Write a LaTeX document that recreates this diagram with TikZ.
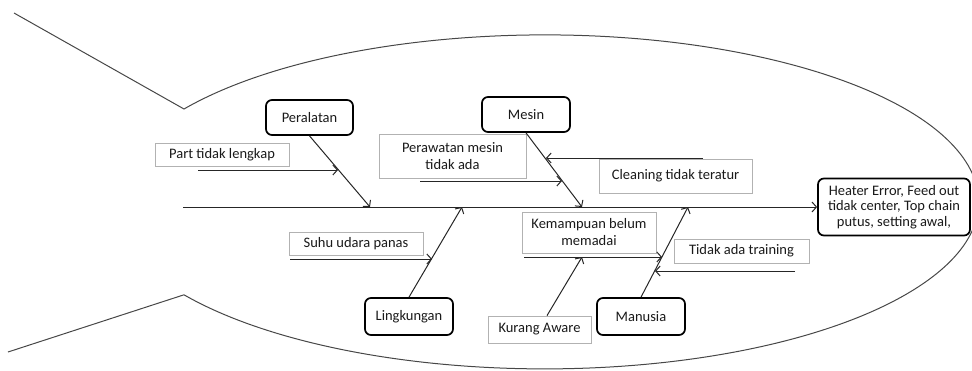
\documentclass[tikz,border=0pt]{standalone}
\usepackage{fontspec}
\setmainfont{Carlito}
\usetikzlibrary{arrows.meta,calc}
\definecolor{txt}{HTML}{1A1A1A}
\begin{document}
\begin{tikzpicture}[x=1pt,y=-1pt,
  every node/.style={text=txt,font=\fontsize{14.5}{17}\selectfont,align=center,inner sep=0pt},
  catbox/.style={draw=black,line width=1.7pt,rounded corners=6pt,fill=white},
  causebox/.style={draw=black!30,line width=0.8pt,fill=white},
  bone/.style={draw=black!85,line width=1pt,-{Straight Barb[length=4.5pt,width=10pt]}},
  outline/.style={draw=black!72,line width=1pt}]
\useasboundingbox (0,0) rectangle (972,370);
% fish outline
\draw[outline] (14,13) -- (184,109)
  arc[start angle=146.2, end angle=-146.2, x radius=434pt, y radius=167pt] -- (8,352);
% effect
\node[catbox,minimum width=152pt,minimum height=57pt,font=\fontsize{14.5}{15.5}\selectfont] (hea) at (894,207)
  {Heater Error, Feed out\\tidak center, Top chain\\putus, setting awal,};
% categories
\node[catbox,minimum width=87pt,minimum height=35pt] (per) at (309.5,117.5) {Peralatan};
\node[catbox,minimum width=88pt,minimum height=35pt] (mes) at (526,114.5) {Mesin};
\node[catbox,minimum width=88pt,minimum height=37pt] (lin) at (409,316.5) {Lingkungan};
\node[catbox,minimum width=88pt,minimum height=37pt] (man) at (641,316.5) {Manusia};
% causes
\node[causebox,minimum width=134pt,minimum height=23pt] (prt) at (222,154.5) {Part tidak lengkap};
\node[causebox,minimum width=147pt,minimum height=44pt] (prw) at (452.5,156) {Perawatan mesin\\tidak ada};
\node[causebox,minimum width=153pt,minimum height=34pt] (cln) at (675.5,176) {Cleaning tidak teratur};
\node[causebox,minimum width=134pt,minimum height=23pt] (suh) at (356,243.5) {Suhu udara panas};
\node[causebox,minimum width=134pt,minimum height=41pt] (kem) at (589,232.5) {Kemampuan belum\\memadai};
\node[causebox,minimum width=135pt,minimum height=24pt] (tdk) at (741.5,251) {Tidak ada training};
\node[causebox,minimum width=103pt,minimum height=27pt] (kur) at (539.5,329.5) {Kurang Aware};
% coordinates
\coordinate (spL) at (183,207);
\coordinate (s1) at (370,207);
\coordinate (s2) at (582,207);
\coordinate (s3) at (462,207);
\coordinate (s4) at (688,207);
\coordinate (p0) at (198,170);  \coordinate (p1) at (338,170);
\coordinate (c0) at (703,158);  \coordinate (c1) at (546,158);
\coordinate (r0) at (420,181);  \coordinate (r1) at (562,181);
\coordinate (u0) at (290,259);  \coordinate (u1) at (432,259);
\coordinate (k0) at (524,257);  \coordinate (k1) at (662,257);
\coordinate (t0) at (795,271);  \coordinate (t1) at (655,271);
\coordinate (a1) at (582,257);
% spine
\draw[bone] (spL) -- (hea.west);
% bones
\draw[bone] (per.south) -- (s1);
\draw[bone] (mes.south) -- (s2);
\draw[bone] (lin.north) -- (s3);
\draw[bone] (man.north) -- (s4);
% sub causes
\draw[bone] (p0) -- (p1);
\draw[bone] (c0) -- (c1);
\draw[bone] (r0) -- (r1);
\draw[bone] (u0) -- (u1);
\draw[bone] (k0) -- (k1);
\draw[bone] (t0) -- (t1);
\draw[bone] ($(kur.north)+(7.5,0)$) -- (a1);
\end{tikzpicture}
\end{document}
